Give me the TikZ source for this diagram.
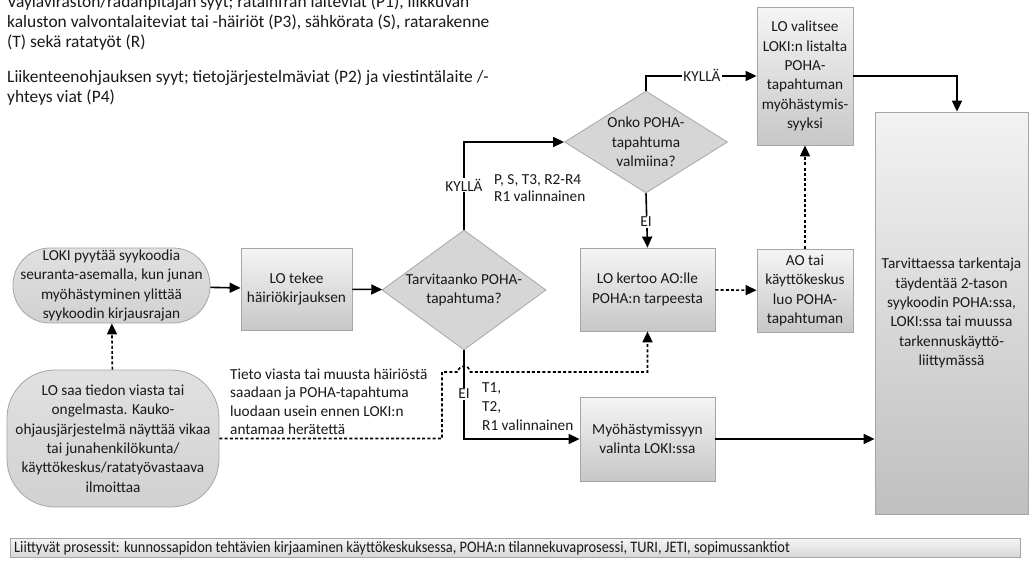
\documentclass[tikz,border=0pt]{standalone}
\usepackage{fontspec}
\setmainfont{Carlito}
\newfontfamily\narrowfont[FakeStretch=0.9]{Carlito}
\usetikzlibrary{shapes.geometric,arrows.meta,calc}

\tikzset{
  txt/.style={font=\fontsize{15.3}{19.3}\selectfont, text=black!90},
  box/.style={txt, draw=black!35, line width=0.8pt, top color=black!4, bottom color=black!22,
              inner sep=0pt, align=center},
  roundbox/.style={box, top color=black!12, bottom color=black!18},
  dia/.style={diamond, draw=black!35, line width=0.8pt, fill=black!16, inner sep=0pt},
  flow/.style={line width=1.6pt, -{Triangle[length=11pt,width=10pt]}},
  dflow/.style={flow, dash pattern=on 3pt off 2.2pt},
  lbl/.style={txt, fill=white, inner sep=1.2pt},
  freetext/.style={txt, inner sep=0pt, anchor=base west},
}

\begin{document}
\begin{tikzpicture}[x=1pt,y=-1pt]
\useasboundingbox (0,0) rectangle (1029,568);
\clip (0,0) rectangle (1029,568);
\fill[white] (0,0) rectangle (1029,568);

% cause groups
\node[freetext, font=\fontsize{17.4}{20}\selectfont] (causes) at (7,7) {\parbox[t]{600pt}{\raggedright
  Väyläviraston/radanpitäjän syyt; ratainfran laiteviat (P1), liikkuvan\\
  kaluston valvontalaiteviat tai -häiriöt (P3), sähkörata (S), ratarakenne\\
  (T) sekä ratatyöt (R)\\[15pt]
  Liikenteenohjauksen syyt; tietojärjestelmäviat (P2) ja viestintälaite /-\\
  yhteys viat (P4)}};

% process steps
\node[roundbox, rounded corners=37pt, minimum width=197pt, minimum height=75pt] (loki) at (111.5,285.5)
  {LOKI pyytää syykoodia\\seuranta-asemalla, kun junan\\myöhästyminen ylittää\\syykoodin kirjausrajan};
\node[roundbox, rounded corners=48pt, minimum width=212pt, minimum height=137pt] (info) at (113,438.5)
  {LO saa tiedon viasta tai\\ongelmasta. Kauko-\\ohjausjärjestelmä näyttää vikaa\\tai junahenkilökunta/\\käyttökeskus/ratatyövastaava\\ilmoittaa};
\node[box, minimum width=111pt, minimum height=82pt] (entry) at (296.5,289)
  {LO tekee\\häiriökirjauksen};
\node[dia, minimum width=164pt, minimum height=120pt] (need) at (464,290) {};
\node[txt, align=center] at (need) {Tarvitaanko POHA-\\tapahtuma?};
\node[dia, minimum width=163pt, minimum height=102pt] (ready) at (646,142) {};
\node[txt, align=center] at (ready) {Onko POHA-\\tapahtuma\\valmiina?};
\node[box, minimum width=135pt, minimum height=83pt] (tell) at (647.5,289.5)
  {LO kertoo AO:lle\\POHA:n tarpeesta};
\node[box, minimum width=96pt, minimum height=83pt] (create) at (805,290.5)
  {AO tai\\käyttökeskus\\luo POHA-\\tapahtuman};
\node[box, minimum width=96pt, minimum height=138pt] (pick) at (805,76)
  {LO valitsee\\LOKI:n listalta\\POHA-\\tapahtuman\\myöhästymis-\\syyksi};
\node[box, minimum width=135pt, minimum height=84pt] (select) at (647.5,439)
  {Myöhästymissyyn\\valinta LOKI:ssa};
\node[box, top color=black!5, bottom color=black!25, minimum width=153pt, minimum height=402pt] (refine) at (951.5,313)
  {Tarvittaessa tarkentaja\\täydentää 2-tason\\syykoodin POHA:ssa,\\LOKI:ssa tai muussa\\tarkennuskäyttö-\\liittymässä};

% related processes bar
\node[box, top color=black!4, bottom color=black!16, minimum width=1010pt, minimum height=19pt] (related) at (515,548) {};
\node[txt, anchor=west, inner sep=0pt, font=\narrowfont\fontsize{16}{18}\selectfont] (relatedtxt) at (14,548)
  {Liittyvät prosessit: kunnossapidon tehtävien kirjaaminen käyttökeskuksessa, POHA:n tilannekuvaprosessi, TURI, JETI, sopimussanktiot};

% connectors
\draw[flow] (loki) -- (entry);
\draw[flow] (entry) -- (need);
\draw[flow] (need.north) |- (ready.west);
\node[lbl] at (464,185) {KYLLÄ};
\node[freetext] at (494,184) {\parbox[t]{120pt}{\raggedright\baselineskip=17.5pt P, S, T3, R2-R4\\R1 valinnainen}};
\draw[flow] (ready.north) |- (pick.west);
\node[lbl] at (702,75) {KYLLÄ};
\draw[flow] (ready.south) -- (tell.north);
\node[lbl] at (646,222) {EI};
\draw[dflow] (tell) -- (create);
\draw[dflow] (create) -- (pick);
\draw[flow] (pick.east) -| ([xshift=5.5pt]refine.north);
\draw[flow] (need.south) |- (select.west);
\node[lbl] at (464,394) {EI};
\node[freetext] at (482,392) {\parbox[t]{120pt}{\raggedright\baselineskip=19pt T1,\\T2,\\R1 valinnainen}};
\draw[flow] (select.east) -- (select.east -| refine.west);
\draw[dflow] (info) -- (loki);
\coordinate (hopL) at (457.5,372);
\coordinate (hopR) at (470.5,372);
\draw[dflow] (info.east) -- (442,438.5) -- (442,372) -- (hopL)
  .. controls (460,364) and (468,364) .. (hopR) -| (tell.south);
\node[freetext] at (230,379) {\parbox[t]{220pt}{\raggedright\baselineskip=18.5pt
  Tieto viasta tai muusta häiriöstä\\saadaan ja POHA-tapahtuma\\luodaan usein ennen LOKI:n\\antamaa herätettä}};
\end{tikzpicture}
\end{document}
